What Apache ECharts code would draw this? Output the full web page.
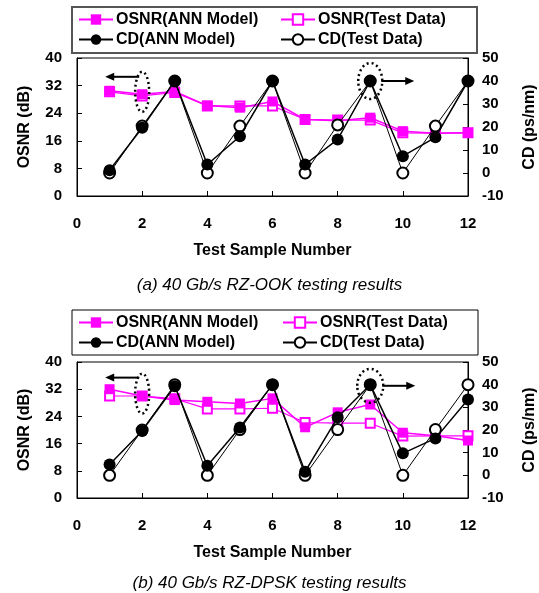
<!DOCTYPE html>
<html>
<head>
<meta charset="utf-8">
<script src="https://cdn.jsdelivr.net/npm/echarts@6/dist/echarts.min.js"></script>
<style>
html,body{margin:0;padding:0;background:#fff;}
#main{width:539px;height:593px;}
</style>
</head>
<body>
<div id="main"></div>
<script>
var samples = [1,2,3,4,5,6,7,8,9,10,11,12];

// (a) 40 Gb/s RZ-OOK
var osnrAnnA  = [30.5,29.5,30.3,26.2,25.6,27.4,22.2,21.8,22.7,18.8,18.2,18.3];
var osnrTestA = [30.2,29.0,30.0,26.1,26.1,26.1,22.2,22.0,22.0,18.3,18.2,18.3];
var cdAnnA    = [1.2,19.7,40,3.7,16,40,3.7,14.6,40,7.3,15.5,40];
var cdTestA   = [0,20.4,40,0,20.4,40,0,20.9,40,0,20.4,40];

// (b) 40 Gb/s RZ-DPSK
var osnrAnnB  = [32.0,30.0,28.8,28.3,27.8,29.3,20.8,25.2,27.5,19.2,18.3,16.9];
var osnrTestB = [30.0,30.0,29.2,26.2,26.2,26.4,22.2,22.0,22.0,18.2,18.3,18.3];
var cdAnnB    = [4.8,19.6,39.3,4.2,21.1,40,1.6,25.6,40,9.7,16.3,33.5];
var cdTestB   = [0,20,40,0,20.2,40,0,20.2,40,0,20.2,40];

var FONT = "'Liberation Sans', Arial, sans-serif";
var MAG = "#ff00ff";

function pairs(arr){
	var res = [];
	for(var i=0;i<samples.length;i++){
		res.push([samples[i], arr[i]]);
	}
	return res;
}

function xAx(gi){
	return {
		type:"value", gridIndex:gi, min:0, max:12, interval:2,
		name:"Test Sample Number", nameLocation:"middle", nameGap:47,
		nameTextStyle:{fontFamily:FONT,fontWeight:"bold",fontSize:16,color:"#000"},
		axisLine:{lineStyle:{color:"#000",width:1}},
		axisTick:{inside:true,length:5,lineStyle:{color:"#000"}},
		axisLabel:{fontFamily:FONT,fontWeight:"bold",fontSize:15,color:"#000",margin:20},
		splitLine:{show:false}
	};
}
function yLeft(gi){
	return {
		type:"value", gridIndex:gi, min:0, max:40, interval:8, position:"left",
		name:"OSNR (dB)", nameLocation:"middle", nameGap:44,
		nameTextStyle:{fontFamily:FONT,fontWeight:"bold",fontSize:16,color:"#000"},
		axisLine:{show:true,lineStyle:{color:"#000"}},
		axisTick:{show:true,inside:true,length:5,lineStyle:{color:"#000"}},
		axisLabel:{fontFamily:FONT,fontWeight:"bold",fontSize:15,color:"#000",margin:15},
		splitLine:{show:false}
	};
}
function yRight(gi){
	return {
		type:"value", gridIndex:gi, min:-10, max:50, interval:10, position:"right",
		name:"CD (ps/nm)", nameLocation:"middle", nameGap:54,
		nameTextStyle:{fontFamily:FONT,fontWeight:"bold",fontSize:16,color:"#000"},
		axisLine:{show:true,lineStyle:{color:"#000"}},
		axisTick:{show:true,inside:true,length:5,lineStyle:{color:"#000"}},
		axisLabel:{fontFamily:FONT,fontWeight:"bold",fontSize:15,color:"#000",margin:14},
		splitLine:{show:false}
	};
}

function seriesFor(gi, osnrAnn, osnrTest, cdAnn, cdTest){
	var xi = gi, yl = gi*2, yr = gi*2+1;
	return [
		{name:"OSNR(Test Data)",type:"line",xAxisIndex:xi,yAxisIndex:yl,data:pairs(osnrTest),
			symbol:"emptyRect",symbolSize:9,color:MAG,itemStyle:{borderWidth:1.2},
			lineStyle:{color:MAG,width:1.2},z:2},
		{name:"OSNR(ANN Model)",type:"line",xAxisIndex:xi,yAxisIndex:yl,data:pairs(osnrAnn),
			symbol:"rect",symbolSize:10,color:MAG,lineStyle:{color:MAG,width:1.5},z:3},
		{name:"CD(Test Data)",type:"line",xAxisIndex:xi,yAxisIndex:yr,data:pairs(cdTest),
			symbol:"emptyCircle",symbolSize:11,color:"#000",itemStyle:{borderWidth:1},
			lineStyle:{color:"#000",width:1},z:4},
		{name:"CD(ANN Model)",type:"line",xAxisIndex:xi,yAxisIndex:yr,data:pairs(cdAnn),
			symbol:"circle",symbolSize:12,color:"#000",lineStyle:{color:"#000",width:1.5},z:5}
	];
}

function legendCol(left, top, names){
	return {
		orient:"vertical", left:left, top:top, padding:0, itemGap:3, itemWidth:34, itemHeight:13,
		data:names, selectedMode:false,
		textStyle:{fontFamily:FONT,fontWeight:"bold",fontSize:16,color:"#000",lineHeight:17,padding:[0,0,0,-2]}
	};
}

var chart = echarts.init(document.getElementById("main"));
var option = {
	animation:false,
	backgroundColor:"#fff",
	title:[
		{text:"(a) 40 Gb/s RZ-OOK testing results",left:"center",top:272,
			textStyle:{fontFamily:FONT,fontStyle:"italic",fontWeight:"normal",fontSize:17,color:"#000"}},
		{text:"(b) 40 Gb/s RZ-DPSK testing results",left:"center",top:570,
			textStyle:{fontFamily:FONT,fontStyle:"italic",fontWeight:"normal",fontSize:17,color:"#000"}}
	],
	legend:[
		legendCol(78,11,["OSNR(ANN Model)","CD(ANN Model)"]),
		legendCol(280,11,["OSNR(Test Data)","CD(Test Data)"]),
		legendCol(78,314,["OSNR(ANN Model)","CD(ANN Model)"]),
		legendCol(282,314,["OSNR(Test Data)","CD(Test Data)"])
	],
	grid:[
		{left:77,top:58,width:391,height:138,show:true,borderColor:"#000",borderWidth:1,outerBoundsMode:"none"},
		{left:77,top:362,width:391,height:136,show:true,borderColor:"#000",borderWidth:1,outerBoundsMode:"none"}
	],
	xAxis:[xAx(0),xAx(1)],
	yAxis:[yLeft(0),yRight(0),yLeft(1),yRight(1)],
	series:seriesFor(0,osnrAnnA,osnrTestA,cdAnnA,cdTestA).concat(seriesFor(1,osnrAnnB,osnrTestB,cdAnnB,cdTestB))
};
chart.setOption(option);

// dotted ellipses + arrows, anchored on axis values
function mark(gi, yIdx, x, y, rx, ry, dir, arrowDy){
	var p = chart.convertToPixel({xAxisIndex:gi,yAxisIndex:yIdx},[x,y]);
	var els = [];
	els.push({type:"ellipse",shape:{cx:p[0],cy:p[1],rx:rx,ry:ry},
		style:{fill:null,stroke:"#000",lineWidth:2.5,lineDash:[2,3]},z:20});
	var ay = p[1]+arrowDy;
	var x0, x1;
	if(dir<0){ x0 = p[0]-rx+4; x1 = p[0]-rx-30; }
	else { x0 = p[0]+rx-1; x1 = p[0]+rx+32; }
	els.push({type:"line",shape:{x1:x0,y1:ay,x2:x1-dir*6,y2:ay},style:{stroke:"#000",lineWidth:2},z:20});
	els.push({type:"polygon",shape:{points:[[x1,ay],[x1-dir*9,ay-4],[x1-dir*9,ay+4]]},style:{fill:"#000"},z:20});
	return els;
}

var g = [
	{type:"rect",shape:{x:72,y:7,width:405,height:46},style:{fill:null,stroke:"#555",lineWidth:2},z:1},
	{type:"rect",shape:{x:72,y:310,width:406,height:45},style:{fill:null,stroke:"#000",lineWidth:1},z:1}
];
g = g.concat(mark(0,0,2,30.2,7,20,-1,-15));
g = g.concat(mark(0,1,9,40,12,18,1,0));
g = g.concat(mark(1,2,2,30.7,7,20,-1,-16));
g = g.concat(mark(1,3,9,39.5,13,17,1,0));
chart.setOption({graphic:g});
</script>
</body>
</html>
